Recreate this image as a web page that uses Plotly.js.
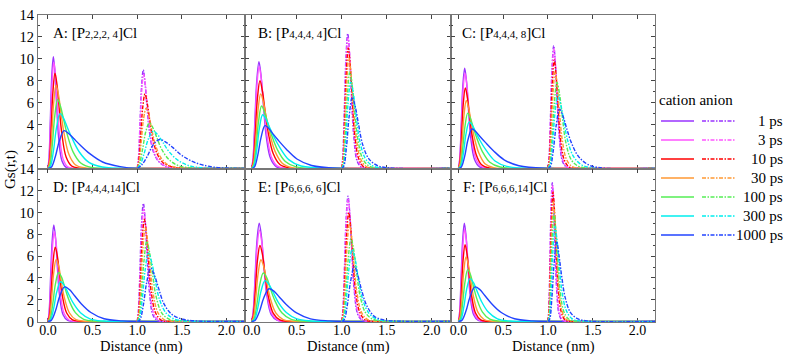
<!DOCTYPE html>
<html>
<head>
<meta charset="utf-8">
<script src="https://cdn.plot.ly/plotly-3.0.1.min.js"></script>
<style>
html,body{margin:0;padding:0;background:#fff;}
#chart{width:789px;height:354px;}
</style>
</head>
<body>
<div id="chart"></div>
<script>
// ---------- categories / labels ----------
const times = ['1 ps','3 ps','10 ps','30 ps','100 ps','300 ps','1000 ps'];
const colors = ['#9933FF','#FF55FF','#FF0000','#FF9933','#55EE55','#00EEEE','#2244FF'];
const panelLabels = [
  'A: [P<span style="font-size:11px">2,2,2, 4</span>]Cl',
  'B: [P<span style="font-size:11px">4,4,4, 4</span>]Cl',
  'C: [P<span style="font-size:11px">4,4,4, 8</span>]Cl',
  'D: [P<span style="font-size:11px">4,4,4,14</span>]Cl',
  'E: [P<span style="font-size:11px">6,6,6, 6</span>]Cl',
  'F: [P<span style="font-size:11px">6,6,6,14</span>]Cl'
];
const xTickVals = [0, 0.5, 1.0, 1.5, 2.0];
const xTickText = ['0.0','0.5','1.0','1.5','2.0'];
const yTickVals = [0,2,4,6,8,10,12,14];
// Gs(r,t) = 0 at these distances (start / end of each curve family)
const cationZeroStart = 0.0, cationZeroEnd = [1.0, 2.2];
const anionZeroStart = 1.0, anionZeroEnd = 2.2;

// ---------- Panel A ----------
const catA_x = [
 [0.012,0.027,0.042,0.06,0.078,0.096,0.12,0.156,0.204,0.27],
 [0.013,0.029,0.046,0.065,0.085,0.104,0.13,0.169,0.221,0.293],
 [0.016,0.035,0.055,0.078,0.101,0.125,0.156,0.203,0.265,0.351],
 [0.018,0.041,0.063,0.09,0.117,0.144,0.18,0.234,0.306,0.405],
 [0.022,0.049,0.076,0.108,0.14,0.173,0.216,0.281,0.367,0.486],
 [0.027,0.061,0.095,0.135,0.176,0.216,0.27,0.351,0.459,0.608],
 [0.036,0.081,0.126,0.18,0.234,0.288,0.36,0.468,0.612,0.81]];
const catA_y = [
 [1.02,4.59,8.36,10.2,8.77,5.92,2.75,0.71,0.1,0],
 [0.87,4.17,7.86,9.7,8.44,5.92,3.01,0.87,0.15,0],
 [0.7,3.57,6.96,8.7,7.66,5.57,3.13,1.04,0.22,0.03],
 [0.53,2.89,5.93,7.6,6.76,5.17,3.19,1.29,0.34,0.06],
 [0.32,2.21,4.79,6.3,5.67,4.54,3.09,1.51,0.5,0.09],
 [0.2,1.6,3.7,5.0,4.55,3.75,2.75,1.5,0.55,0.13],
 [0.1,1.04,2.48,3.45,3.17,2.73,2.14,1.35,0.59,0.17]];
const aniA_x = [
 [1.014,1.031,1.048,1.068,1.088,1.109,1.136,1.177,1.231,1.306,1.408],
 [1.014,1.032,1.05,1.072,1.094,1.115,1.144,1.187,1.245,1.324,1.432],
 [1.017,1.039,1.061,1.087,1.113,1.139,1.174,1.226,1.296,1.392,1.522],
 [1.02,1.045,1.07,1.1,1.13,1.16,1.2,1.26,1.34,1.45,1.6],
 [1.027,1.061,1.095,1.136,1.177,1.218,1.272,1.354,1.462,1.612,1.816],
 [1.036,1.081,1.126,1.18,1.234,1.288,1.36,1.468,1.612,1.81,2.08],
 [1.05,1.113,1.175,1.25,1.325,1.4,1.5,1.65,1.85,2.125]];
const aniA_y = [
 [0.9,4.05,7.38,9.0,7.74,5.67,3.42,1.62,0.72,0.23,0],
 [0.86,3.87,7.05,8.6,7.48,5.5,3.35,1.55,0.65,0.19,0],
 [0.68,2.99,5.51,6.8,5.92,4.49,2.72,1.29,0.48,0.14,0],
 [0.55,2.42,4.46,5.5,4.84,3.69,2.26,1.05,0.36,0.09,0],
 [0.46,1.78,3.32,4.15,3.69,2.86,1.78,0.83,0.25,0.05,0],
 [0.37,1.46,2.72,3.4,3.03,2.38,1.5,0.68,0.19,0.03,0],
 [0.32,1.11,2.11,2.64,2.38,1.9,1.19,0.53,0.13,0.01]];

// ---------- Panel B ----------
const catB_x = [
 [0.016,0.036,0.057,0.081,0.105,0.13,0.162,0.211,0.275,0.365],
 [0.017,0.037,0.058,0.083,0.108,0.133,0.166,0.216,0.282,0.374],
 [0.018,0.041,0.064,0.092,0.12,0.147,0.184,0.239,0.313,0.414],
 [0.02,0.045,0.07,0.1,0.13,0.16,0.2,0.26,0.34,0.45],
 [0.022,0.05,0.077,0.11,0.143,0.176,0.22,0.286,0.374,0.495],
 [0.024,0.055,0.085,0.122,0.159,0.195,0.244,0.317,0.415,0.549],
 [0.03,0.067,0.104,0.148,0.192,0.237,0.296,0.385,0.503,0.666]];
const catB_y = [
 [0.98,4.39,8.0,9.75,8.39,5.85,2.93,0.88,0.15,0],
 [0.84,4.0,7.53,9.3,8.09,5.86,3.26,1.12,0.23,0.02],
 [0.64,3.28,6.4,8.0,7.04,5.36,3.28,1.36,0.36,0.05],
 [0.48,2.58,5.3,6.8,6.05,4.76,3.2,1.56,0.48,0.08],
 [0.29,2.0,4.33,5.7,5.13,4.22,3.08,1.71,0.63,0.14],
 [0.2,1.57,3.63,4.9,4.51,3.82,2.94,1.86,0.78,0.22],
 [0.12,1.17,2.81,3.9,3.63,3.16,2.57,1.76,0.86,0.27]];
const aniB_x = [
 [1.013,1.03,1.047,1.067,1.087,1.107,1.134,1.174,1.228,1.302],
 [1.014,1.032,1.049,1.07,1.091,1.112,1.14,1.182,1.238,1.315],
 [1.015,1.033,1.051,1.073,1.095,1.117,1.146,1.19,1.248,1.329],
 [1.016,1.036,1.056,1.08,1.104,1.128,1.16,1.208,1.272,1.36],
 [1.018,1.041,1.063,1.09,1.117,1.144,1.18,1.234,1.306,1.405],
 [1.02,1.045,1.07,1.1,1.13,1.16,1.2,1.26,1.34,1.45],
 [1.023,1.053,1.082,1.117,1.152,1.187,1.234,1.304,1.398,1.527]];
const aniB_y = [
 [1.23,5.54,10.09,12.3,10.46,6.89,2.95,0.62,0.06,0],
 [1.07,5.12,9.64,11.9,10.12,6.78,2.98,0.71,0.1,0],
 [0.88,4.51,8.69,11.0,9.35,6.38,2.97,0.88,0.13,0],
 [0.71,3.84,7.78,10.1,8.59,5.96,2.93,0.91,0.18,0.02],
 [0.44,3.08,6.6,8.8,7.57,5.28,2.64,0.88,0.22,0.04],
 [0.32,2.53,5.85,7.9,6.79,4.82,2.53,0.95,0.25,0.05],
 [0.2,1.95,4.68,6.5,5.59,4.03,2.15,0.85,0.26,0.05]];

// ---------- Panel C ----------
const catC_x = [
 [0.014,0.031,0.048,0.069,0.09,0.11,0.138,0.179,0.235,0.311],
 [0.014,0.032,0.05,0.072,0.094,0.115,0.144,0.187,0.245,0.324],
 [0.015,0.034,0.053,0.076,0.099,0.122,0.152,0.198,0.258,0.342],
 [0.017,0.039,0.061,0.087,0.113,0.139,0.174,0.226,0.296,0.392],
 [0.021,0.046,0.072,0.103,0.134,0.165,0.206,0.268,0.35,0.464],
 [0.024,0.054,0.084,0.12,0.156,0.192,0.24,0.312,0.408,0.54],
 [0.03,0.068,0.105,0.15,0.195,0.24,0.3,0.39,0.51,0.675]];
const catC_y = [
 [0.92,4.12,7.5,9.15,7.87,5.49,2.75,0.82,0.14,0],
 [0.78,3.74,7.05,8.7,7.57,5.48,3.05,1.04,0.22,0.02],
 [0.59,3.01,5.88,7.35,6.47,4.92,3.01,1.25,0.33,0.04],
 [0.43,2.36,4.84,6.2,5.52,4.34,2.91,1.43,0.43,0.07],
 [0.25,1.77,3.84,5.05,4.55,3.74,2.73,1.52,0.56,0.13],
 [0.17,1.36,3.15,4.25,3.91,3.32,2.55,1.62,0.68,0.19],
 [0.11,1.08,2.59,3.6,3.35,2.92,2.38,1.62,0.79,0.25]];
const aniC_x = [
 [1.013,1.029,1.045,1.064,1.083,1.102,1.128,1.166,1.218,1.288],
 [1.013,1.03,1.046,1.066,1.086,1.106,1.132,1.172,1.224,1.297],
 [1.014,1.032,1.049,1.07,1.091,1.112,1.14,1.182,1.238,1.315],
 [1.016,1.036,1.056,1.08,1.104,1.128,1.16,1.208,1.272,1.36],
 [1.02,1.045,1.07,1.1,1.13,1.16,1.2,1.26,1.34,1.45],
 [1.022,1.05,1.077,1.11,1.143,1.176,1.22,1.286,1.374,1.495],
 [1.026,1.059,1.091,1.13,1.169,1.208,1.26,1.338,1.442,1.585]];
const aniC_y = [
 [1.12,5.04,9.18,11.2,9.52,6.27,2.69,0.56,0.06,0],
 [0.98,4.69,8.83,10.9,9.27,6.21,2.73,0.65,0.09,0],
 [0.79,4.06,7.82,9.9,8.42,5.74,2.67,0.79,0.12,0],
 [0.62,3.36,6.81,8.85,7.52,5.22,2.57,0.8,0.16,0.02],
 [0.39,2.75,5.89,7.85,6.75,4.71,2.36,0.79,0.2,0.03],
 [0.27,2.14,4.96,6.7,5.83,4.36,2.55,1.07,0.34,0.05],
 [0.16,1.62,3.89,5.4,4.75,3.67,2.38,1.13,0.38,0.06]];

// ---------- Panel D ----------
const catD_x = [
 [0.013,0.029,0.046,0.065,0.085,0.104,0.13,0.169,0.221,0.293],
 [0.014,0.032,0.049,0.07,0.091,0.112,0.14,0.182,0.238,0.315],
 [0.016,0.036,0.057,0.081,0.105,0.13,0.162,0.211,0.275,0.365],
 [0.018,0.041,0.064,0.092,0.12,0.147,0.184,0.239,0.313,0.414],
 [0.024,0.053,0.083,0.118,0.153,0.189,0.236,0.307,0.401,0.531],
 [0.028,0.063,0.098,0.14,0.182,0.224,0.28,0.364,0.476,0.63],
 [0.037,0.083,0.13,0.185,0.241,0.296,0.37,0.481,0.629,0.833]];
const catD_y = [
 [0.89,3.99,7.27,8.87,7.63,5.14,2.39,0.62,0.09,0],
 [0.74,3.55,6.69,8.26,7.19,4.96,2.48,0.7,0.11,0],
 [0.55,2.8,5.46,6.83,6.01,4.3,2.32,0.75,0.14,0.01],
 [0.4,2.17,4.45,5.7,5.07,3.76,2.17,0.8,0.17,0.02],
 [0.23,1.58,3.42,4.5,4.05,3.11,1.94,0.81,0.2,0.03],
 [0.15,1.17,2.7,3.65,3.32,2.63,1.72,0.8,0.22,0.04],
 [0.1,0.95,2.28,3.17,2.92,2.38,1.65,0.82,0.25,0.05]];
const aniD_x = [
 [1.014,1.031,1.048,1.069,1.09,1.11,1.138,1.179,1.235,1.311],
 [1.015,1.033,1.051,1.073,1.095,1.117,1.146,1.19,1.248,1.329],
 [1.016,1.036,1.056,1.08,1.104,1.128,1.16,1.208,1.272,1.36],
 [1.018,1.041,1.063,1.09,1.117,1.144,1.18,1.234,1.306,1.405],
 [1.021,1.048,1.075,1.107,1.139,1.171,1.214,1.278,1.364,1.482],
 [1.025,1.056,1.088,1.125,1.163,1.2,1.25,1.325,1.425,1.563],
 [1.03,1.068,1.105,1.15,1.195,1.24,1.3,1.39,1.51,1.675]];
const aniD_y = [
 [1.09,4.88,8.9,10.85,9.22,6.08,2.6,0.54,0.05,0],
 [0.93,4.43,8.34,10.3,8.76,5.87,2.58,0.62,0.08,0],
 [0.75,3.85,7.43,9.4,7.99,5.45,2.54,0.75,0.11,0],
 [0.6,3.27,6.62,8.6,7.31,5.07,2.49,0.77,0.15,0.02],
 [0.37,2.57,5.51,7.35,6.32,4.41,2.21,0.74,0.18,0.03],
 [0.25,2.02,4.66,6.3,5.42,3.84,2.02,0.76,0.2,0.04],
 [0.15,1.47,3.53,4.9,4.21,3.04,1.62,0.64,0.2,0.04]];

// ---------- Panel E ----------
const catE_x = [
 [0.017,0.038,0.059,0.084,0.109,0.134,0.168,0.218,0.286,0.378],
 [0.017,0.039,0.06,0.086,0.112,0.138,0.172,0.224,0.292,0.387],
 [0.018,0.041,0.064,0.092,0.12,0.147,0.184,0.239,0.313,0.414],
 [0.021,0.046,0.072,0.103,0.134,0.165,0.206,0.268,0.35,0.464],
 [0.026,0.058,0.09,0.129,0.168,0.206,0.258,0.335,0.439,0.581],
 [0.03,0.067,0.104,0.148,0.192,0.237,0.296,0.385,0.503,0.666],
 [0.038,0.086,0.134,0.192,0.25,0.307,0.384,0.499,0.653,0.864]];
const catE_y = [
 [0.9,4.06,7.4,9.03,7.77,5.24,2.44,0.63,0.09,0],
 [0.76,3.61,6.8,8.4,7.31,5.04,2.52,0.71,0.11,0],
 [0.56,2.86,5.58,6.98,6.14,4.4,2.37,0.77,0.14,0.01],
 [0.4,2.15,4.42,5.67,5.05,3.74,2.15,0.79,0.17,0.02],
 [0.22,1.56,3.38,4.45,4.01,3.07,1.91,0.8,0.2,0.03],
 [0.15,1.2,2.78,3.75,3.41,2.7,1.76,0.83,0.23,0.04],
 [0.09,0.9,2.16,3.0,2.76,2.25,1.56,0.78,0.24,0.05]];
const aniE_x = [
 [1.014,1.032,1.049,1.07,1.091,1.112,1.14,1.182,1.238,1.315],
 [1.014,1.032,1.05,1.072,1.094,1.115,1.144,1.187,1.245,1.324],
 [1.016,1.035,1.055,1.078,1.101,1.125,1.156,1.203,1.265,1.351],
 [1.017,1.038,1.06,1.085,1.111,1.136,1.17,1.221,1.289,1.383],
 [1.021,1.046,1.072,1.103,1.134,1.165,1.206,1.268,1.35,1.464],
 [1.023,1.052,1.081,1.115,1.15,1.184,1.23,1.299,1.391,1.518],
 [1.028,1.063,1.098,1.14,1.182,1.224,1.28,1.364,1.476,1.63]];
const aniE_y = [
 [1.15,5.18,9.43,11.5,9.78,6.44,2.76,0.58,0.06,0],
 [1.01,4.82,9.07,11.2,9.52,6.38,2.8,0.67,0.09,0],
 [0.8,4.1,7.9,10.0,8.5,5.8,2.7,0.8,0.12,0],
 [0.63,3.42,6.93,9.0,7.65,5.31,2.61,0.81,0.16,0.02],
 [0.38,2.66,5.7,7.6,6.54,4.56,2.28,0.76,0.19,0.03],
 [0.26,2.11,4.88,6.6,5.68,4.03,2.11,0.79,0.21,0.04],
 [0.15,1.52,3.64,5.06,4.15,2.78,1.42,0.46,0.13,0.03]];

// ---------- Panel F ----------
const catF_x = [
 [0.013,0.029,0.046,0.065,0.085,0.104,0.13,0.169,0.221,0.293],
 [0.014,0.031,0.048,0.068,0.088,0.109,0.136,0.177,0.231,0.306],
 [0.015,0.033,0.051,0.073,0.095,0.117,0.146,0.19,0.248,0.329],
 [0.017,0.038,0.059,0.084,0.109,0.134,0.168,0.218,0.286,0.378],
 [0.021,0.046,0.072,0.103,0.134,0.165,0.206,0.268,0.35,0.464],
 [0.026,0.058,0.09,0.128,0.166,0.205,0.256,0.333,0.435,0.576],
 [0.037,0.083,0.129,0.184,0.239,0.294,0.368,0.478,0.626,0.828]];
const catF_y = [
 [0.9,4.06,7.4,9.03,7.77,5.24,2.44,0.63,0.09,0],
 [0.77,3.66,6.89,8.5,7.4,5.1,2.55,0.72,0.11,0],
 [0.56,2.89,5.63,7.04,6.2,4.44,2.39,0.77,0.14,0.01],
 [0.41,2.25,4.62,5.92,5.27,3.91,2.25,0.83,0.18,0.02],
 [0.24,1.67,3.62,4.76,4.28,3.28,2.05,0.86,0.21,0.03],
 [0.16,1.26,2.91,3.93,3.58,2.83,1.85,0.86,0.24,0.04],
 [0.1,0.95,2.28,3.17,2.92,2.38,1.65,0.82,0.25,0.05]];
const aniF_x = [
 [1.01,1.022,1.034,1.048,1.062,1.077,1.096,1.125,1.163,1.216],
 [1.01,1.023,1.035,1.05,1.065,1.08,1.1,1.13,1.17,1.225],
 [1.011,1.025,1.039,1.056,1.073,1.09,1.112,1.146,1.19,1.252],
 [1.012,1.027,1.042,1.06,1.078,1.096,1.12,1.156,1.204,1.27],
 [1.013,1.03,1.047,1.067,1.087,1.107,1.134,1.174,1.228,1.302],
 [1.016,1.035,1.055,1.078,1.101,1.125,1.156,1.203,1.265,1.351],
 [1.019,1.044,1.068,1.097,1.126,1.155,1.194,1.252,1.33,1.437]];
const aniF_y = [
 [1.28,5.74,10.46,12.75,10.84,7.14,3.06,0.64,0.06,0],
 [1.13,5.38,10.13,12.5,10.63,7.13,3.13,0.75,0.1,0],
 [0.95,4.88,9.4,11.9,10.12,6.9,3.21,0.95,0.14,0],
 [0.77,4.18,8.47,11.0,9.35,6.49,3.19,0.99,0.2,0.02],
 [0.5,3.47,7.43,9.9,8.51,5.94,2.97,0.99,0.25,0.04],
 [0.35,2.78,6.44,8.7,7.48,5.31,2.78,1.04,0.28,0.05],
 [0.22,2.21,5.29,7.35,5.88,4.04,2.13,0.81,0.26,0.05]];

// ---------- build ----------
const panels = [
  {cx:catA_x, cy:catA_y, ax:aniA_x, ay:aniA_y},
  {cx:catB_x, cy:catB_y, ax:aniB_x, ay:aniB_y},
  {cx:catC_x, cy:catC_y, ax:aniC_x, ay:aniC_y},
  {cx:catD_x, cy:catD_y, ax:aniD_x, ay:aniD_y},
  {cx:catE_x, cy:catE_y, ax:aniE_x, ay:aniE_y},
  {cx:catF_x, cy:catF_y, ax:aniF_x, ay:aniF_y}
];

const W = 789, H = 354;
const ML = 38, MR = 134, MT = 15, MB = 32;
const PW = W - ML - MR, PH = H - MT - MB;
const px2x = p => (p - ML) / PW;
const py2y = p => (H - MB - p) / PH;

const FONT = 'Liberation Serif';
const LW = 1.4;
const ANION_DASH = '4px,1.5px,1.5px,1.5px';

const colEdges = [38, 245, 451, 655];
const xRanges = [[-0.112, 2.208], [-0.074, 2.214], [-0.084, 2.196]];
const rowSplit = 169;

const traces = [];
panels.forEach((p, i) => {
  const ax = i === 0 ? '' : String(i + 1);
  for (let t = 0; t < times.length; t++) {
    traces.push({
      type: 'scatter', mode: 'lines',
      x: [cationZeroStart].concat(p.cx[t], cationZeroEnd),
      y: [0].concat(p.cy[t], [0, 0]),
      xaxis: 'x' + ax, yaxis: 'y' + ax,
      line: {color: colors[t], width: LW, shape: 'spline', smoothing: 1},
      showlegend: false, hoverinfo: 'skip'
    });
  }
  for (let t = 0; t < times.length; t++) {
    traces.push({
      type: 'scatter', mode: 'lines',
      x: [anionZeroStart].concat(p.ax[t], [anionZeroEnd]),
      y: [0].concat(p.ay[t], [0]),
      xaxis: 'x' + ax, yaxis: 'y' + ax,
      line: {color: colors[t], width: LW, shape: 'spline', smoothing: 1, dash: ANION_DASH},
      showlegend: false, hoverinfo: 'skip'
    });
  }
});

const layout = {
  width: W, height: H,
  margin: {l: ML, r: MR, t: MT, b: MB, pad: 0},
  paper_bgcolor: '#fff', plot_bgcolor: '#fff',
  font: {family: FONT, size: 15, color: '#000'},
  showlegend: false,
  annotations: [], shapes: []
};

const axisCommon = {
  showline: true, linecolor: '#777', linewidth: 1, mirror: 'allticks',
  ticks: 'inside', ticklen: 4, tickwidth: 1, tickcolor: '#444',
  showgrid: false, zeroline: false, fixedrange: true,
  tickfont: {family: FONT, size: 14, color: '#000'},
  layer: 'below traces'
};

for (let i = 0; i < 6; i++) {
  const col = i % 3, row = i < 3 ? 0 : 1;
  const sfx = i === 0 ? '' : String(i + 1);
  const xd = [px2x(colEdges[col]), px2x(colEdges[col + 1])];
  const yd = row === 0 ? [py2y(rowSplit), 1] : [0, py2y(rowSplit)];
  layout['xaxis' + sfx] = Object.assign({}, axisCommon, {
    domain: xd, range: xRanges[col], anchor: 'y' + sfx,
    tickvals: xTickVals, ticktext: xTickText,
    showticklabels: row === 1,
    ticklabelstandoff: -5
  });
  layout['yaxis' + sfx] = Object.assign({}, axisCommon, {
    domain: yd, range: [-0.05, 14], anchor: 'x' + sfx,
    tickvals: yTickVals,
    ticktext: yTickVals.map(v => (row === 0 && v === 0) ? '' : String(v)),
    showticklabels: col === 0,
    tickfont: {family: FONT, size: 14.5, color: '#000'},
    minor: {dtick: 1, tick0: 0, ticks: 'inside', ticklen: 2, tickcolor: '#444', tickwidth: 1}
  });
}

// panel labels
const labelPos = [[51, 33], [256, 33], [460, 33], [51, 187], [256, 187], [461, 187]];
panelLabels.forEach((txt, i) => {
  layout.annotations.push({
    xref: 'paper', yref: 'paper', x: px2x(labelPos[i][0]), y: py2y(labelPos[i][1]),
    xanchor: 'left', yanchor: 'middle', showarrow: false, text: txt,
    font: {family: FONT, size: 15, color: '#000'}
  });
});

// axis titles
layout.annotations.push({
  xref: 'paper', yref: 'paper', x: px2x(10), y: py2y(170), textangle: -90,
  xanchor: 'center', yanchor: 'middle', showarrow: false, text: 'Gs(r,t)',
  font: {family: FONT, size: 15, color: '#000'}
});
for (let c = 0; c < 3; c++) {
  layout.annotations.push({
    xref: 'paper', yref: 'paper', x: px2x((colEdges[c] + colEdges[c + 1]) / 2), y: py2y(346),
    xanchor: 'center', yanchor: 'middle', showarrow: false, text: 'Distance (nm)',
    font: {family: FONT, size: 14.5, color: '#000'}
  });
}

// legend (cation solid / anion dash-dot)
layout.annotations.push({
  xref: 'paper', yref: 'paper', x: px2x(657), y: py2y(100),
  xanchor: 'left', yanchor: 'middle', showarrow: false, text: 'cation anion',
  font: {family: FONT, size: 15, color: '#000'}
});
times.forEach((lab, t) => {
  const py = 121 + t * 19;
  layout.shapes.push({type: 'line', xref: 'paper', yref: 'paper',
    x0: px2x(661), x1: px2x(694), y0: py2y(py), y1: py2y(py),
    line: {color: colors[t], width: 1.5}});
  layout.shapes.push({type: 'line', xref: 'paper', yref: 'paper',
    x0: px2x(702), x1: px2x(735), y0: py2y(py), y1: py2y(py),
    line: {color: colors[t], width: 1.5, dash: ANION_DASH}});
  layout.annotations.push({
    xref: 'paper', yref: 'paper', x: px2x(785), y: py2y(py),
    xanchor: 'right', yanchor: 'middle', showarrow: false, text: lab,
    font: {family: FONT, size: 15, color: '#000'}
  });
});

Plotly.newPlot('chart', traces, layout, {staticPlot: true, displayModeBar: false});
</script>
</body>
</html>
